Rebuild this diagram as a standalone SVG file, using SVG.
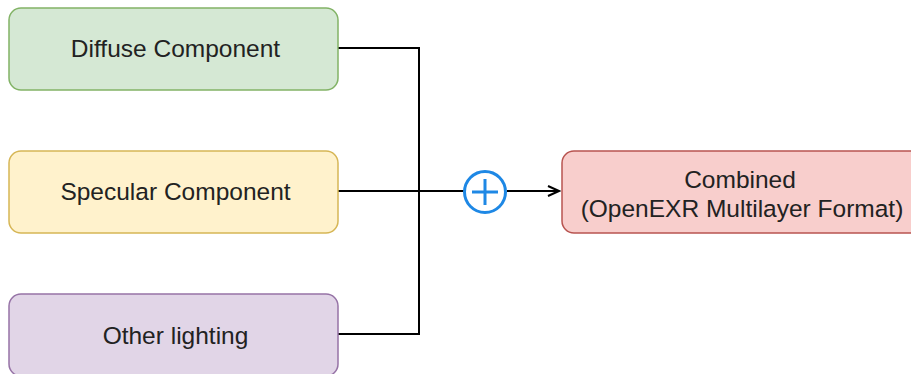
<svg xmlns="http://www.w3.org/2000/svg" width="911" height="374" viewBox="0 0 911 374">
<defs>
<style>
.box{stroke-width:1.5}
.lbl{font-family:"Liberation Sans",Arial,sans-serif;font-size:24.5px;fill:#222;text-anchor:middle}
.conn{fill:none;stroke:#000;stroke-width:2}
</style>
<marker id="arr" markerWidth="14" markerHeight="14" refX="12" refY="7" orient="auto" markerUnits="userSpaceOnUse">
<path d="M1,2 L12,7 L1,12" fill="none" stroke="#000" stroke-width="2"/>
</marker>
</defs>
<rect width="911" height="374" fill="#fff"/>
<g id="connectors">
<path class="conn" d="M338,48 H419 V334 H338"/>
<path class="conn" d="M338,191 H464"/>
<path class="conn" d="M507,191 H559" marker-end="url(#arr)"/>
</g>
<g id="diffuse">
<rect class="box" x="9" y="8" width="329" height="82" rx="12" fill="#d5e8d4" stroke="#82b366"/>
<text class="lbl" x="175.5" y="57">Diffuse Component</text>
</g>
<g id="specular">
<rect class="box" x="9" y="151" width="329" height="82" rx="12" fill="#fff2cc" stroke="#d6b656"/>
<text class="lbl" x="175.5" y="200">Specular Component</text>
</g>
<g id="other">
<rect class="box" x="9" y="294" width="329" height="82" rx="12" fill="#e1d5e7" stroke="#9673a6"/>
<text class="lbl" x="175.5" y="344">Other lighting</text>
</g>
<g id="plus">
<circle cx="485" cy="192" r="20.5" fill="#fff" stroke="#1e88e5" stroke-width="3"/>
<path d="M485,179 V205 M472,192 H498" stroke="#1e88e5" stroke-width="3" fill="none"/>
</g>
<g id="combined">
<rect class="box" x="562" y="151" width="360" height="82" rx="12" fill="#f8cecc" stroke="#b85450"/>
<text class="lbl" x="740" y="188">Combined</text>
<text class="lbl" x="742" y="217">(OpenEXR Multilayer Format)</text>
</g>
</svg>
